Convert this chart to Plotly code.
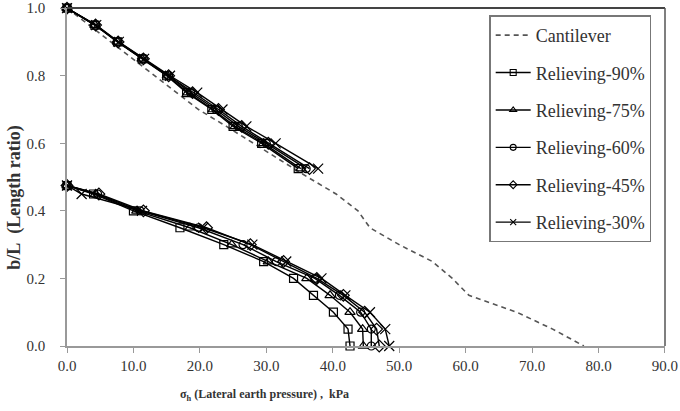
import plotly.graph_objects as go

# ---------------- data ----------------
y_cant = [1.0, 0.95, 0.9, 0.85, 0.8, 0.75, 0.7, 0.65, 0.6, 0.55, 0.5, 0.45, 0.4,
          0.35, 0.3, 0.25, 0.2, 0.15, 0.1, 0.05, 0.0]
x_cant = [0.0, 3.3, 6.6, 9.9, 13.2, 16.5, 19.8, 24.0, 28.0, 32.1, 36.2, 40.5, 43.8,
          45.6, 50.0, 55.0, 58.0, 60.5, 67.7, 73.1, 77.8]

# upper segment (above relieving platform) and lower segment (below)
y_up = [1.0, 0.95, 0.9, 0.85, 0.8, 0.75, 0.7, 0.65, 0.6, 0.525]
y_low = [0.475, 0.45, 0.4, 0.35, 0.3, 0.25, 0.2, 0.15, 0.1, 0.05, 0.0]

x_up_90 = [0, 4.2, 7.6, 11.3, 15.0, 18.0, 21.8, 25.0, 29.3, 34.8]
x_up_75 = [0, 4.2, 7.6, 11.3, 15.1, 18.2, 22.0, 25.3, 29.6, 35.2]
x_up_60 = [0, 4.3, 7.7, 11.5, 15.3, 18.6, 22.4, 25.8, 30.0, 36.0]
x_up_45 = [0, 4.3, 7.7, 11.5, 15.3, 18.9, 22.8, 26.3, 30.3, 36.5]
x_up_30 = [0, 4.4, 7.8, 11.6, 15.5, 19.6, 23.4, 27.0, 31.4, 37.8]

x_low_90 = [0, 4.0, 10.0, 17.0, 23.6, 29.6, 34.1, 37.1, 40.1, 42.3, 42.6]
x_low_75 = [0, 4.3, 10.5, 18.5, 24.8, 30.3, 36.1, 39.6, 42.6, 44.5, 44.6]
x_low_60 = [0, 4.6, 11.0, 19.8, 26.5, 31.5, 37.3, 41.0, 44.2, 45.8, 45.8]
x_low_45 = [0, 4.8, 11.5, 21.0, 27.6, 32.6, 37.6, 41.6, 44.8, 46.6, 47.0]
x_low_30 = [0, 2.2, 11.3, 20.5, 27.9, 33.0, 38.3, 41.9, 45.6, 47.9, 48.5]

series_names = ["Relieving-90%", "Relieving-75%", "Relieving-60%",
                "Relieving-45%", "Relieving-30%"]
x_ticks = [0, 10, 20, 30, 40, 50, 60, 70, 80, 90]
y_ticks = [0.0, 0.2, 0.4, 0.6, 0.8, 1.0]

# ---------------- figure ----------------
FONT = "Liberation Serif, DejaVu Serif, serif"
fig = go.Figure()

fig.add_trace(go.Scatter(
    x=x_cant, y=y_cant, mode="lines", name="Cantilever",
    line=dict(color="#555555", width=1.6, dash="5px,4px"),
    legendgroup="c", cliponaxis=False))

ups = [x_up_90, x_up_75, x_up_60, x_up_45, x_up_30]
lows = [x_low_90, x_low_75, x_low_60, x_low_45, x_low_30]
symbols = ["square-open", "triangle-up-open", "circle-open", "diamond-open", "x-thin-open"]
sizes = [8, 9, 8, 9, 10]

for i, name in enumerate(series_names):
    xs = ups[i] + [None] + lows[i]
    ys = y_up + [None] + y_low
    fig.add_trace(go.Scatter(
        x=xs, y=ys, mode="lines+markers", name=name, showlegend=False,
        line=dict(color="black", width=1.4),
        marker=dict(symbol=symbols[i], size=sizes[i], color="black",
                    line=dict(color="black", width=1.2)),
        connectgaps=False, legendgroup="g%d" % i, cliponaxis=False))
    # legend entry with smaller marker
    fig.add_trace(go.Scatter(
        x=[None], y=[None], mode="lines+markers", name=name,
        line=dict(color="black", width=1.4),
        marker=dict(symbol=symbols[i], size=6, color="black",
                    line=dict(color="black", width=1.1)),
        legendgroup="g%d" % i))

axis_common = dict(
    showgrid=False, zeroline=False, showline=True, linecolor="#999999",
    linewidth=1.5, ticks="outside", ticklen=5, tickcolor="#999999",
    tickwidth=1.2, tickfont=dict(family=FONT, size=15, color="#333333"),
    tickformat=".1f", ticklabeloverflow="allow", automargin=False)

fig.update_xaxes(range=[0, 90.01], tickvals=x_ticks, **axis_common)
fig.update_yaxes(range=[0, 1.0005], tickvals=y_ticks, ticklabelstandoff=12, **axis_common)

fig.update_layout(
    width=680, height=411,
    margin=dict(l=67, r=15, t=8, b=65),
    paper_bgcolor="white", plot_bgcolor="white",
    font=dict(family=FONT, color="#333333"),
    legend=dict(x=0.706, y=0.978, xanchor="left", yanchor="top",
                bordercolor="#777777", borderwidth=1.5, bgcolor="white",
                font=dict(family=FONT, size=18, color="#333333"),
                tracegroupgap=11, itemwidth=35),
    shapes=[
        dict(type="line", xref="paper", yref="paper", x0=0, x1=1, y0=1, y1=1,
             line=dict(color="#444444", width=2)),
        dict(type="line", xref="paper", yref="paper", x0=1, x1=1, y0=0, y1=1,
             line=dict(color="#555555", width=1.5)),
    ],
    annotations=[
        dict(text="<b>σ<sub>h</sub> (Lateral earth pressure) ,&nbsp; kPa</b>",
             xref="paper", yref="paper", x=0.331, y=-0.145,
             xanchor="center", yanchor="middle", showarrow=False,
             font=dict(family=FONT, size=12, color="#333333")),
        dict(text="<b>b/L&nbsp; (Length ratio)</b>",
             xref="paper", yref="paper", x=-0.088, y=0.44,
             xanchor="center", yanchor="middle", showarrow=False, textangle=-90,
             font=dict(family=FONT, size=18, color="#333333")),
    ],
)

fig.write_html("out.html")
